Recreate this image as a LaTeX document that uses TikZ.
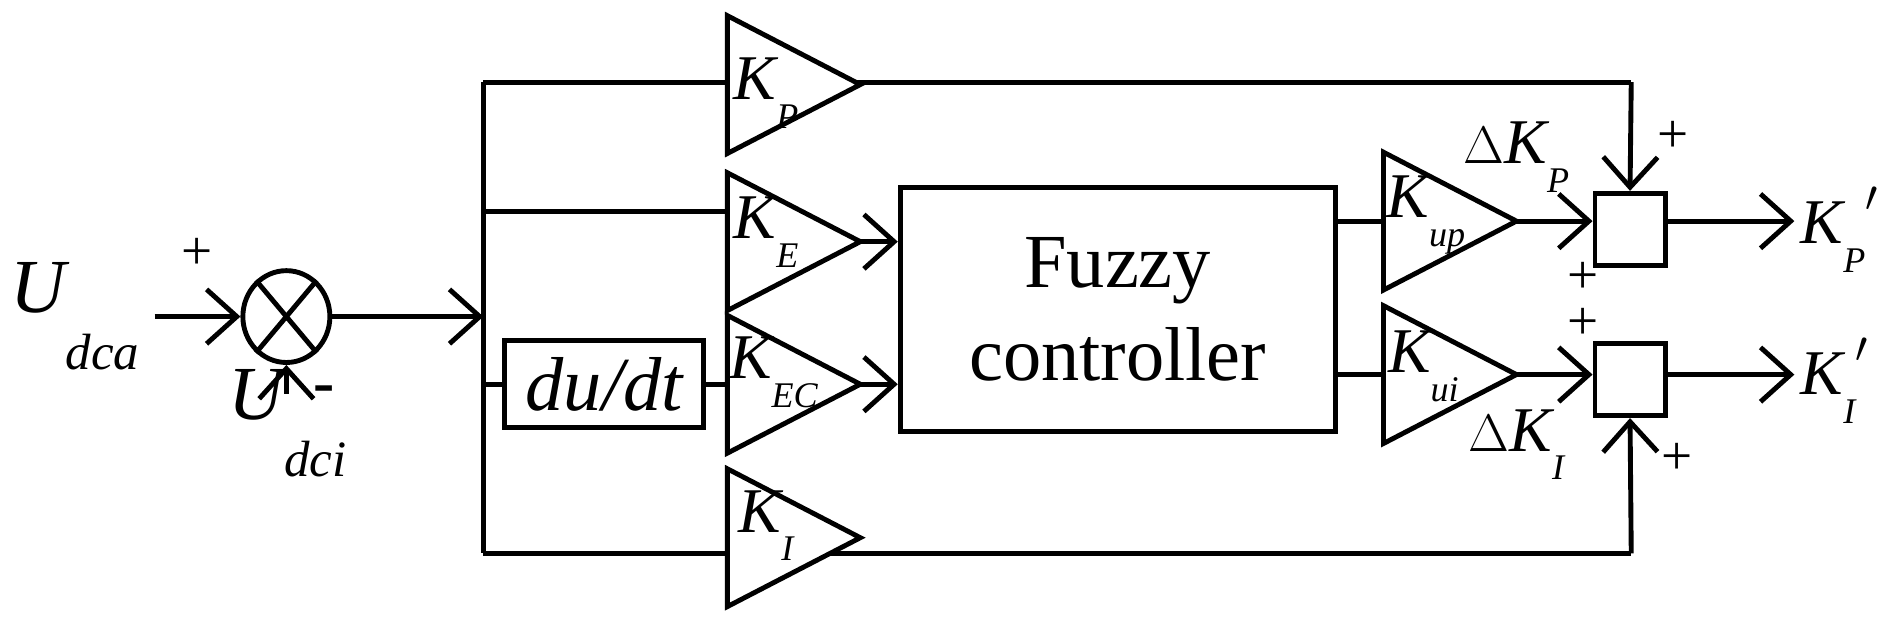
\documentclass[tikz,border=0pt]{standalone}
\usepackage{fontspec}
\setmainfont{Liberation Serif}
\usetikzlibrary{arrows.meta,shapes.geometric}
\tikzset{
  wire/.style={line width=2.3pt, -{Straight Barb[length=5mm,width=9mm,line width=2.3pt]}},
  line/.style={line width=2.3pt},
  gain/.style={line width=2.3pt, fill=white, line join=miter},
  lbl/.style={font=\fontsize{30}{32}\selectfont\itshape, inner sep=0pt},
  big/.style={font=\fontsize{36}{38}\selectfont\itshape, inner sep=0pt},
  sgn/.style={font=\fontsize{26}{28}\selectfont, inner sep=0pt}
}
\newcommand{\ksub}[2]{#1\raisebox{-0.45em}{\fontsize{17}{17}\selectfont #2}}
\newcommand{\usub}[2]{#1\raisebox{-0.75em}{\fontsize{24}{24}\selectfont #2}}
\newcommand{\gainbox}[4]{% name, left x, top y, bottom y
  \draw[gain] (#2,#3) -- (#2+110,{(#3+#4)/2}) -- (#2,#4) -- cycle;
  \coordinate (#1-in) at (#2,{(#3+#4)/2});
  \coordinate (#1-out) at (#2+110,{(#3+#4)/2});
}
\begin{document}
\begin{tikzpicture}[x=0.02cm,y=-0.02cm]
\useasboundingbox (0,0) rectangle (1560,516);

% sum junction
\node[draw, ellipse, line width=2.3pt, minimum width=72*0.02cm, minimum height=76*0.02cm, inner sep=0pt] (sum) at (237,262) {};
\draw[line width=2.3pt] (sum.50) -- (sum.230) (sum.130) -- (sum.310);
\node[big] (udca) at (62,262) {\usub{U}{dca}};
\node[big] (udci) at (238,350) {\usub{U}{dci}};
\coordinate (udca-e) at (128,262);
\coordinate (udci-e) at (237,326);
\draw[wire] (udca-e) -- (sum.west);
\draw[wire] (udci-e) -- (sum.south);
\node[sgn] at (163,210) {+};
\node[font=\fontsize{30}{32}\selectfont\bfseries] at (268,327) {-};

% bus
\coordinate (bus) at (400,262);
\coordinate (bus-t) at (400,68);
\coordinate (bus-b) at (400,458);
\draw[wire] (sum.east) -- (bus);
\draw[line] (bus-t) -- (bus-b);

% long paths top and bottom
\coordinate (s1-t) at (1350,68);
\coordinate (s2-b) at (1350,458);
\draw[line] (bus-t) -- (s1-t);
\draw[line] (bus-b) -- (s2-b);

% gains
\gainbox{kp}{602}{13}{127}
\gainbox{ke}{602}{143}{257}
\gainbox{kec}{602}{261}{375}
\gainbox{ki}{602}{388}{502}
\node[lbl] at (634,77) {\ksub{K}{P}};
\node[lbl] at (634,192) {\ksub{K}{E}};
\node[lbl] at (640,308) {\ksub{K}{EC}};
\node[lbl] at (634,435) {\ksub{K}{I}};

% derivative
\node[draw, line width=2.3pt, minimum width=165*0.02cm, minimum height=72*0.02cm, inner sep=0pt, big] (ddt) at (500,318) {du/dt};
\draw[line] (400,175) -- (602,175);
\draw[line] (400,318) -- (ddt.west);
\draw[line] (ddt.east) -- (602,318);

% fuzzy
\node[draw, line width=2.3pt, minimum width=360*0.02cm, minimum height=202*0.02cm, align=center, font=\fontsize{36}{44}\selectfont] (fuzzy) at (925,256) {Fuzzy\\controller};
\draw[wire] (ke-out) -- (fuzzy.west |- ke-out);
\draw[wire] (kec-out) -- (fuzzy.west |- kec-out);

\gainbox{kup}{1145}{126}{240}
\gainbox{kui}{1145}{253}{367}
\node[lbl] at (1180,178) {\ksub{K}{up}};
\node[lbl] at (1178,303) {\ksub{K}{ui}};
\draw[line] (fuzzy.east |- kup-in) -- (kup-in);
\draw[line] (fuzzy.east |- kui-in) -- (kui-in);

% adders
\node[draw, line width=2.3pt, fill=white, minimum width=58*0.02cm, minimum height=60*0.02cm, inner sep=0pt] (s1) at (1349,190) {};
\node[draw, line width=2.3pt, fill=white, minimum width=58*0.02cm, minimum height=60*0.02cm, inner sep=0pt] (s2) at (1349,314) {};
\draw[wire] (kup-out) -- (s1.west |- kup-out);
\draw[wire] (kui-out) -- (s2.west |- kui-out);
\draw[wire] (s1-t) -- (s1.north);
\draw[wire] (s2-b) -- (s2.south);
\node[lbl] at (1255,130) {$\Delta$\ksub{K}{P}};
\node[lbl] at (1255,368) {$\Delta$\ksub{K}{I}};
\node[sgn] at (1385,113) {+};
\node[sgn] at (1310,230) {+};
\node[sgn] at (1310,268) {+};
\node[sgn] at (1388,380) {+};

% outputs
\coordinate (o1) at (1485,183);
\coordinate (o2) at (1485,310);
\draw[wire] (s1.east |- o1) -- (o1);
\draw[wire] (s2.east |- o2) -- (o2);
\node[lbl, anchor=west] at (1490,190) {\ksub{K}{P}\raisebox{0.2em}{$'$}};
\node[lbl, anchor=west] at (1490,315) {\ksub{K}{I}\raisebox{0.2em}{$'$}};
\end{tikzpicture}
\end{document}
